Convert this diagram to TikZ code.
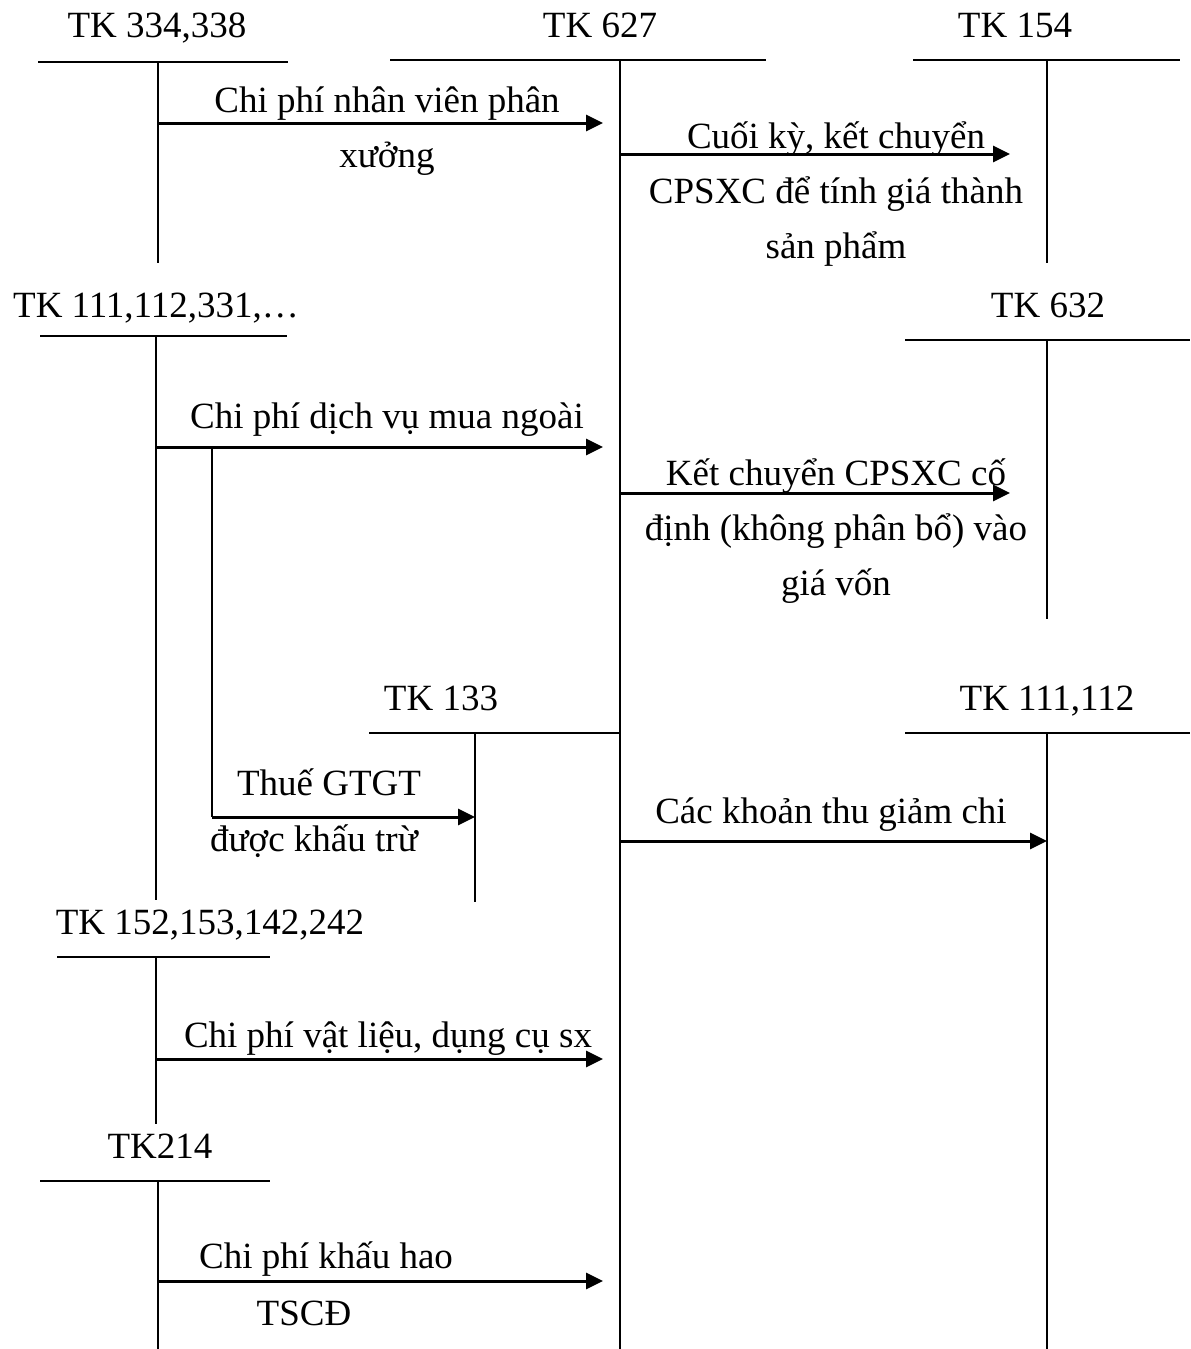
\documentclass[tikz,border=0pt]{standalone}
\usepackage{fontspec}
\setmainfont{Liberation Serif}
\usetikzlibrary{arrows.meta}

\begin{document}
\begin{tikzpicture}[x=0.5pt,y=-0.5pt,font=\fontsize{18.5}{27.5}\selectfont,
	t/.style={line width=1.1pt},
	arr/.style={line width=1.5pt,-{Triangle[length=8.5pt,width=8pt]}},
	tk/.style={anchor=base,inner sep=0pt},
	lbl/.style={anchor=base,inner sep=0pt,align=center}]
	\useasboundingbox (0,0) rectangle (1190,1349);
	% T accounts: name/label x/label base/text/line left/line right/line y/stem x/stem end
	\foreach \n/\x/\y/\s/\l/\r/\h/\v/\e in {
		a/157/38/{TK 334,338}/38/288/62/158/263,
		b/600/38/{TK 627}/390/766/60/620/1349,
		c/1015/38/{TK 154}/913/1180/60/1047/263,
		d/156/317/{TK 111,112,331,…}/40/287/336/156/900,
		e/1048/317/{TK 632}/905/1190/340/1047/619,
		f/441/710/{TK 133}/369/620/733/475/902,
		g/1047/710/{TK 111,112}/905/1190/733/1047/1349,
		h/210/934/{TK 152,153,142,242}/57/270/957/156/1124,
		i/160/1158/{TK214}/40/270/1181/158/1349} {
		\node[tk] (\n) at (\x,\y) {\s};
		\coordinate (s\n) at (\v,\h);
		\draw[t] (\l,\h) -- (\r,\h);
		\draw[t] (s\n) -- (\v,\e);
	}
	% entries (base = last line)
	\node[lbl] (nv) at (387,167) {Chi phí nhân viên phân\\xưởng};
	\node[lbl] (kc) at (836,258) {Cuối kỳ, kết chuyển\\CPSXC để tính giá thành\\sản phẩm};
	\node[lbl] (dv) at (387,428) {Chi phí dịch vụ mua ngoài};
	\node[lbl] (cd) at (836,595) {Kết chuyển CPSXC cố\\định (không phân bổ) vào\\giá vốn};
	\node[lbl] (vat) at (329,795) {Thuế GTGT};
	\node[lbl] (vat2) at (314,851) {được khấu trừ};
	\node[lbl] (thu) at (831,823) {Các khoản thu giảm chi};
	\node[lbl] (vl) at (388,1047) {Chi phí vật liệu, dụng cụ sx};
	\node[lbl] (kh) at (326,1268) {Chi phí khấu hao};
	\node[lbl] (kh2) at (304,1325) {TSCĐ};
	% arrows
	\draw[arr,shorten >=8.5pt] (sa |- 0,123) -- (sb |- 0,123);
	\draw[arr,shorten >=18.5pt] (sb |- 0,154) -- (sc |- 0,154);
	\draw[arr,shorten >=8.5pt] (sd |- 0,447) -- (sb |- 0,447);
	\draw[arr,shorten >=18.5pt] (sb |- 0,493) -- (se |- 0,493);
	\coordinate (br) at (212,447);
	\coordinate (bk) at (212,817);
	\draw[t] (br) -- (bk);
	\draw[arr] (bk) -- (sf |- bk);
	\draw[arr] (sb |- 0,841) -- (sg |- 0,841);
	\draw[arr,shorten >=8.5pt] (sh |- 0,1059) -- (sb |- 0,1059);
	\draw[arr,shorten >=8.5pt] (si |- 0,1281) -- (sb |- 0,1281);
\end{tikzpicture}
\end{document}
